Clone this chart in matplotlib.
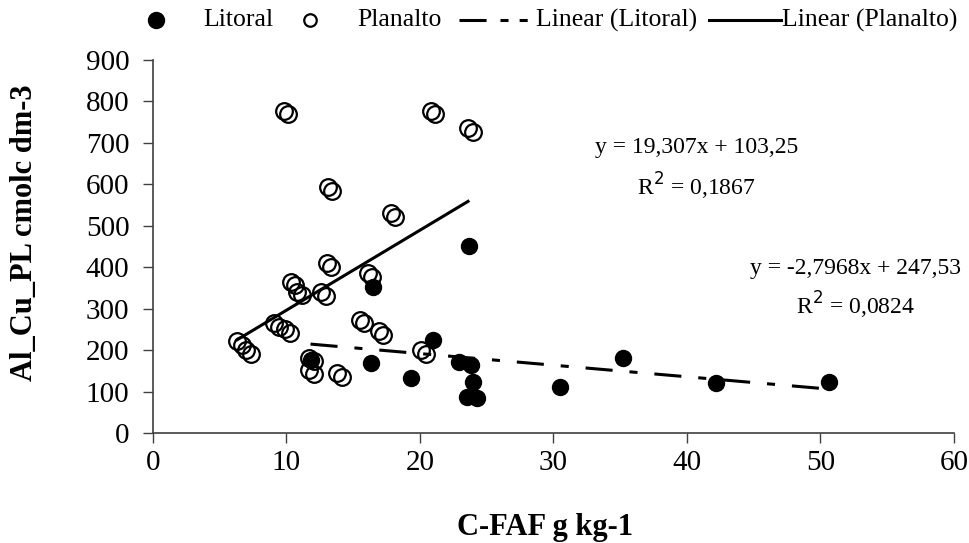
import matplotlib
matplotlib.use("Agg")
import matplotlib.pyplot as plt
from matplotlib.lines import Line2D
from matplotlib.transforms import offset_copy

plt.rcParams['font.family'] = ['Liberation Serif', 'DejaVu Serif']
plt.rcParams['lines.scale_dashes'] = False

# ---- data ----
litoral_x = [16.5, 11.8, 16.3, 19.3, 21.0, 22.9, 23.8, 24.0, 23.5, 24.3, 23.7, 30.5, 35.2, 42.2, 50.6]
litoral_y = [353, 176, 168, 132, 224, 172, 164, 124, 88, 84, 450, 112, 180, 120, 122]

planalto_x = [9.8, 20.8, 23.6, 13.1, 17.8, 13.0, 16.1, 10.3, 10.8, 12.6,
              9.1, 9.9, 6.3, 7.0, 15.5, 16.9, 11.7, 11.7, 13.8, 20.1]
planalto_y = [778, 778, 735, 593, 530, 409, 386, 365, 341, 340,
              265, 250, 222, 200, 273, 245, 182, 152, 144, 200]

litoral_fit = (-2.7968, 247.53)
planalto_fit = (19.307, 103.25)
eq_litoral = ["y = -2,7968x + 247,53", "R$^2$ = 0,0824"]
eq_planalto = ["y = 19,307x + 103,25", "R$^2$ = 0,1867"]

x_ticks = [0, 10, 20, 30, 40, 50, 60]
y_ticks = [0, 100, 200, 300, 400, 500, 600, 700, 800, 900]
x_label = "C-FAF g kg-1"
y_label = "Al_Cu_PL cmolc dm-3"
legend_labels = ["Litoral", "Planalto", "Linear (Litoral)", "Linear (Planalto)"]

# ---- figure ----
W, H = 970, 543
fig = plt.figure(figsize=(W / 100, H / 100), dpi=100)
ax = fig.add_axes([153 / W, 1 - 433 / H, (954 - 153) / W, (433 - 60) / H])

dash_pattern = (0, (19.5, 12.2, 5.8, 12.2))

# Planalto open circles with offset twin
shadow = offset_copy(ax.transData, fig=fig, x=3.2, y=-2.6, units='points')
ax.plot(planalto_x, planalto_y, linestyle='none', marker='o', markersize=12,
        markerfacecolor='none', markeredgecolor='black', markeredgewidth=1.6,
        transform=shadow, zorder=3)
ax.plot(planalto_x, planalto_y, linestyle='none', marker='o', markersize=12,
        markerfacecolor='none', markeredgecolor='black', markeredgewidth=1.6, zorder=3)

# Litoral filled circles
ax.plot(litoral_x, litoral_y, linestyle='none', marker='o', markersize=11.5,
        markerfacecolor='black', markeredgecolor='black', zorder=4)

# trend lines
px = [min(planalto_x), max(planalto_x)]
ax.plot(px, [planalto_fit[0] * v + planalto_fit[1] for v in px],
        color='black', lw=2.2, zorder=2)
lx = [min(litoral_x), max(litoral_x)]
ax.plot(lx, [litoral_fit[0] * v + litoral_fit[1] for v in lx],
        color='black', lw=2.2, linestyle=dash_pattern, zorder=2)

ax.set_xlim(0, 60)
ax.set_ylim(0, 900)
ax.set_xticks(x_ticks)
ax.set_yticks(y_ticks)
ax.set_xticklabels([str(t) for t in x_ticks])
ax.set_yticklabels([str(t) for t in y_ticks])
for s in ['top', 'right']:
    ax.spines[s].set_visible(False)
for s in ['left', 'bottom']:
    ax.spines[s].set_color('#404040')
    ax.spines[s].set_linewidth(1.2)
ax.tick_params(axis='both', direction='out', length=7, width=1.0, color='#404040',
               labelsize=21)
ax.tick_params(axis='y', pad=10)
ax.tick_params(axis='x', pad=5)

fig.text(545 / W, 1 - 527 / H, x_label, ha='center', va='center',
         fontsize=22, fontweight='bold')
fig.text(25 / W, 1 - 233 / H, y_label, ha='center', va='center', rotation=90,
         fontsize=22, fontweight='bold')

# equations
ax.text(40.7, 690, eq_planalto[0], ha='center', va='center', fontsize=17)
ax.text(40.7, 594, eq_planalto[1], ha='center', va='center', fontsize=17)
ax.text(52.6, 398, eq_litoral[0], ha='center', va='center', fontsize=17)
ax.text(52.6, 309, eq_litoral[1], ha='center', va='center', fontsize=17)

# legend (placed manually in figure pixels)
ly = 1 - 20 / H
fig.add_artist(Line2D([156 / W], [ly], transform=fig.transFigure, linestyle='none',
                      marker='o', markersize=11.5, markerfacecolor='black',
                      markeredgecolor='black'))
fig.text(203 / W, ly, legend_labels[0], ha='left', va='center', fontsize=18.5)
fig.add_artist(Line2D([310 / W], [ly], transform=fig.transFigure, linestyle='none',
                      marker='o', markersize=9, markerfacecolor='none',
                      markeredgecolor='black', markeredgewidth=1.6))
fig.text(357 / W, ly, legend_labels[1], ha='left', va='center', fontsize=18.5)
fig.add_artist(Line2D([459 / W, 534 / W], [ly, ly], transform=fig.transFigure,
                      color='black', lw=2.2,
                      linestyle=(0, (19.5, 10, 5.8, 8, 5.8, 8))))
fig.text(536 / W, ly, legend_labels[2], ha='left', va='center', fontsize=18.5)
fig.add_artist(Line2D([709 / W, 781 / W], [ly, ly], transform=fig.transFigure,
                      color='black', lw=2.2))
fig.text(782 / W, ly, legend_labels[3], ha='left', va='center', fontsize=18.5)

fig.savefig("out.png", dpi=100)
